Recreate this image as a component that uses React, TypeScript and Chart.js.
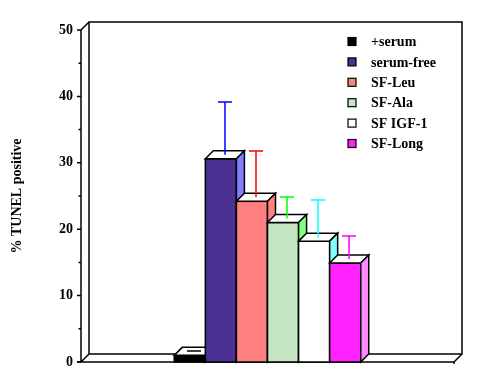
import React, { useEffect, useRef } from "react";
import { Chart, registerables } from "chart.js";

Chart.register(...registerables);

const categories = [""];
const seriesLabels = ["+serum", "serum-free", "SF-Leu", "SF-Ala", "SF IGF-1", "SF-Long"];
const seriesValues = [1.0, 30.6, 24.2, 21.0, 18.2, 14.9];
const seriesErrors = [0.1, 8.0, 7.0, 3.2, 5.6, 3.5];
const frontColors = ["#000000", "#4a3192", "#ff8080", "#c4e6c0", "#ffffff", "#ff22ff"];
const sideColors = ["#000000", "#8080ff", "#ff8080", "#80ff80", "#80ffff", "#ff88ff"];
const errorColors = ["#000000", "#0000ff", "#ff0000", "#00ff00", "#00ffff", "#ff00ff"];
const yTicks = [0, 10, 20, 30, 40, 50];
const yMinorTicks = [5, 15, 25, 35, 45];

const FONT = "'Liberation Serif', 'Times New Roman', serif";
const D = 8;

const threeD = {
  id: "threeD",
  beforeDatasetsDraw(chart: any) {
    const { ctx, chartArea } = chart;
    const { left: L, right: R, top: T, bottom: B } = chartArea;
    const ys = chart.scales.y;
    ctx.save();
    ctx.strokeStyle = "#000";
    ctx.lineWidth = 1.5;
    ctx.beginPath();
    ctx.moveTo(L + D, B - D);
    ctx.lineTo(L + D, T - D);
    ctx.lineTo(R + D, T - D);
    ctx.lineTo(R + D, B - D);
    ctx.lineTo(L + D, B - D);
    ctx.moveTo(L, T);
    ctx.lineTo(L, B);
    ctx.moveTo(L, T);
    ctx.lineTo(L + D, T - D);
    ctx.moveTo(L, B);
    ctx.lineTo(L + D, B - D);
    ctx.moveTo(L - 4, B);
    ctx.lineTo(R, B);
    ctx.lineTo(R + D, B - D);
    ctx.moveTo(R, B);
    ctx.lineTo(R, B + 2);
    ctx.stroke();
    ctx.beginPath();
    yTicks.forEach((v) => {
      const p = ys.getPixelForValue(v);
      ctx.moveTo(L - 4, p);
      ctx.lineTo(L, p);
    });
    yMinorTicks.forEach((v) => {
      const p = ys.getPixelForValue(v);
      ctx.moveTo(L - 2.5, p);
      ctx.lineTo(L, p);
    });
    ctx.stroke();
    ctx.restore();
  },
  afterDatasetsDraw(chart: any) {
    const { ctx } = chart;
    const ys = chart.scales.y;
    ctx.save();
    ctx.lineWidth = 1.5;
    ctx.strokeStyle = "#000";
    ctx.lineJoin = "miter";
    const geo: any[] = [];
    chart.data.datasets.forEach((ds: any, i: number) => {
      const el = chart.getDatasetMeta(i).data[0];
      const { x, y, base, width } = el.getProps(["x", "y", "base", "width"], true);
      const l = x - width / 2;
      const r = x + width / 2;
      geo.push({ x, y });
      ctx.fillStyle = frontColors[i];
      ctx.fillRect(l, y, r - l, base - y);
      ctx.strokeRect(l, y, r - l, base - y);
      ctx.beginPath();
      ctx.moveTo(l, y);
      ctx.lineTo(l + D, y - D);
      ctx.lineTo(r + D, y - D);
      ctx.lineTo(r, y);
      ctx.closePath();
      ctx.fillStyle = "#ffffff";
      ctx.fill();
      ctx.stroke();
      ctx.beginPath();
      ctx.moveTo(r, y);
      ctx.lineTo(r + D, y - D);
      ctx.lineTo(r + D, base - D);
      ctx.lineTo(r, base);
      ctx.closePath();
      ctx.fillStyle = sideColors[i];
      ctx.fill();
      ctx.stroke();
    });
    ctx.lineWidth = 1.5;
    chart.data.datasets.forEach((ds: any, i: number) => {
      const { x, y } = geo[i];
      const x0 = Math.round(x + D / 2);
      const y0 = y - D / 2;
      const yt = Math.round(ys.getPixelForValue(seriesValues[i] + seriesErrors[i]) - D / 2);
      ctx.strokeStyle = errorColors[i];
      ctx.beginPath();
      ctx.moveTo(x0, y0);
      ctx.lineTo(x0, yt);
      ctx.moveTo(x0 - 7, yt);
      ctx.lineTo(x0 + 7, yt);
      ctx.stroke();
    });
    ctx.restore();
  },
  afterDraw(chart: any) {
    const { ctx } = chart;
    ctx.save();
    ctx.font = `bold 14px ${FONT}`;
    ctx.textBaseline = "middle";
    ctx.textAlign = "left";
    seriesLabels.forEach((lab, i) => {
      const cy = 41.5 + i * 20.4;
      ctx.fillStyle = frontColors[i];
      ctx.fillRect(348, cy - 4, 8, 8);
      ctx.lineWidth = 1.2;
      ctx.strokeStyle = "#000";
      ctx.strokeRect(348, cy - 4, 8, 8);
      ctx.fillStyle = "#000";
      ctx.fillText(lab, 371, cy + 1);
    });
    ctx.restore();
  },
};

export default function App() {
  const ref = useRef<HTMLCanvasElement | null>(null);
  useEffect(() => {
    if (!ref.current) return;
    const chart = new Chart(ref.current, {
      type: "bar",
      data: {
        labels: categories,
        datasets: seriesLabels.map((lab, i) => ({
          label: lab,
          data: [seriesValues[i]],
          backgroundColor: frontColors[i],
          borderWidth: 0,
          categoryPercentage: 0.5,
          barPercentage: 1,
        })),
      },
      options: {
        animation: false,
        responsive: false,
        devicePixelRatio: 1,
        layout: { padding: { left: 0, top: 30, right: 26, bottom: 30 } },
        plugins: { legend: { display: false }, tooltip: { enabled: false } },
        scales: {
          x: { display: false },
          y: {
            min: 0,
            max: 50,
            afterFit: (s: any) => {
              s.width = 81;
            },
            border: { display: false },
            grid: { display: false, drawTicks: false, tickLength: 0 },
            ticks: {
              stepSize: 10,
              padding: 8,
              color: "#000",
              font: { family: FONT, size: 14, weight: "bold" },
            },
            title: {
              display: true,
              text: "% TUNEL positive",
              color: "#000",
              align: "center",
              padding: { top: 9, bottom: 0 },
              font: { family: FONT, size: 14, weight: "bold" },
            },
          },
        },
      },
      plugins: [threeD],
    });
    return () => chart.destroy();
  }, []);
  return (
    <div style={{ position: "fixed", left: 0, top: 0, width: 480, height: 392, background: "#fff" }}>
      <canvas ref={ref} width={480} height={392} />
    </div>
  );
}
